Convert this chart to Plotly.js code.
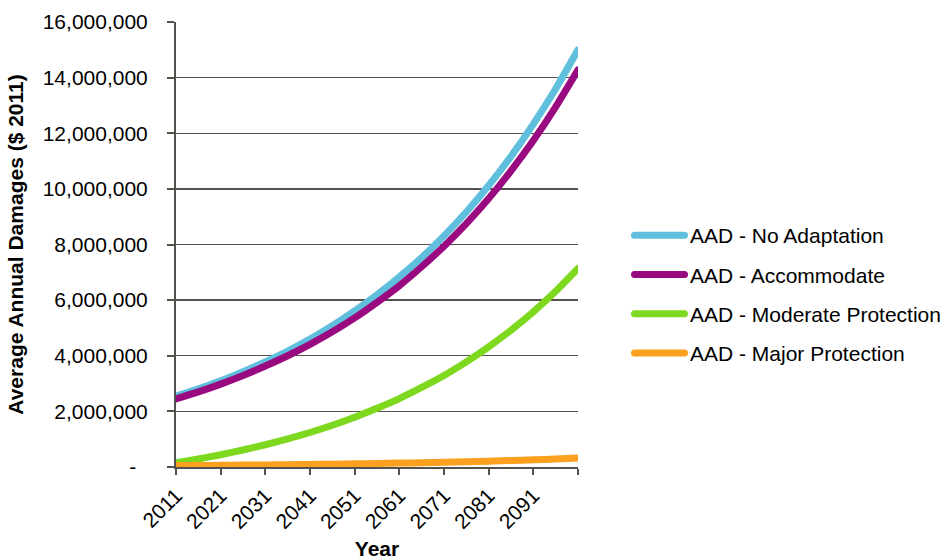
<!DOCTYPE html>
<html>
<head>
<meta charset="utf-8">
<script src="https://cdn.plot.ly/plotly-3.0.1.min.js"></script>
<style>
  html, body { margin: 0; padding: 0; background: #ffffff; }
  #chart { width: 947px; height: 560px; }
</style>
</head>
<body>
<div id="chart"></div>
<script>
// Average annual damages by adaptation option, 2011-2101 (5-year steps), $ 2011
const years = [2011, 2016, 2021, 2026, 2031, 2036, 2041, 2046, 2051, 2056,
               2061, 2066, 2071, 2076, 2081, 2086, 2091, 2096, 2101];

const noAdaptation = [2550000, 2810000, 3100000, 3430000, 3780000, 4170000, 4600000,
                      5080000, 5610000, 6190000, 6830000, 7530000, 8310000, 9170000,
                      10120000, 11170000, 12330000, 13600000, 15000000];

const accommodate = [2450000, 2700000, 2980000, 3290000, 3630000, 4000000, 4410000,
                     4860000, 5360000, 5920000, 6520000, 7200000, 7940000, 8750000,
                     9650000, 10650000, 11740000, 12950000, 14280000];

const moderateProtection = [150000, 290000, 440000, 610000, 800000, 1010000, 1240000,
                            1500000, 1790000, 2110000, 2460000, 2860000, 3290000, 3780000,
                            4320000, 4920000, 5580000, 6320000, 7140000];

const majorProtection = [50000, 55000, 61000, 68000, 75000, 84000, 93000,
                         103000, 114000, 126000, 140000, 155000, 172000, 191000,
                         211000, 234000, 260000, 288000, 320000];

const seriesNames = ['AAD - No Adaptation', 'AAD - Accommodate',
                     'AAD - Moderate Protection', 'AAD - Major Protection'];
const seriesColors = ['#5fbfdd', '#990a80', '#7ed81e', '#fba01f'];

const xTickVals = [2011, 2021, 2031, 2041, 2051, 2061, 2071, 2081, 2091, 2101];
const xTickText = ['2011', '2021', '2031', '2041', '2051', '2061', '2071', '2081', '2091', ''];

const yTickVals = [0, 2000000, 4000000, 6000000, 8000000, 10000000, 12000000, 14000000, 16000000];
const yTickText = ['-\u00a0\u00a0', '2,000,000', '4,000,000', '6,000,000', '8,000,000',
                   '10,000,000', '12,000,000', '14,000,000', '16,000,000'];

const FONT = 'Liberation Sans, Arial, sans-serif';
const AXIS_COLOR = '#55514d';

const allSeries = [noAdaptation, accommodate, moderateProtection, majorProtection];
const traces = allSeries.map((vals, i) => ({
  type: 'scatter',
  mode: 'lines',
  x: years,
  y: vals,
  name: seriesNames[i],
  legendgroup: 'g' + i,
  line: { color: seriesColors[i], width: 7, shape: 'spline', smoothing: 0.6 },
  hoverinfo: 'x+y+name'
}));

const layout = {
  width: 947,
  height: 560,
  margin: { l: 176, r: 369, t: 22, b: 93, pad: 0 },
  paper_bgcolor: '#ffffff',
  plot_bgcolor: '#ffffff',
  font: { family: FONT, size: 21, color: '#000000' },
  showlegend: true,
  legend: {
    xref: 'container',
    yref: 'container',
    x: 620 / 947,
    xanchor: 'left',
    y: (560 - 294.5) / 560,
    yanchor: 'middle',
    itemwidth: 60,
    tracegroupgap: 9,
    traceorder: 'grouped',
    font: { family: FONT, size: 21, color: '#000000' },
    bgcolor: 'rgba(0,0,0,0)'
  },
  xaxis: {
    range: [2011, 2101],
    tickmode: 'array',
    tickvals: xTickVals,
    ticktext: xTickText,
    tickangle: -45,
    ticks: 'outside',
    ticklen: 6,
    tickwidth: 2,
    tickcolor: AXIS_COLOR,
    showline: true,
    linecolor: AXIS_COLOR,
    linewidth: 2,
    showgrid: false,
    zeroline: false,
    tickfont: { family: FONT, size: 21, color: '#000000' },
    title: { text: '<b>Year</b>', font: { family: FONT, size: 21, color: '#000000' }, standoff: 15 },
    automargin: false,
    fixedrange: true
  },
  yaxis: {
    range: [0, 16000000],
    tickmode: 'array',
    tickvals: yTickVals,
    ticktext: yTickText,
    ticks: 'outside',
    ticklen: 7,
    tickwidth: 2,
    tickcolor: AXIS_COLOR,
    ticklabelstandoff: 15,
    showline: true,
    linecolor: AXIS_COLOR,
    linewidth: 2,
    showgrid: true,
    gridcolor: AXIS_COLOR,
    gridwidth: 1.4,
    zeroline: false,
    tickfont: { family: FONT, size: 21, color: '#000000' },
    title: { text: '<b>Average Annual Damages ($ 2011)</b>', font: { family: FONT, size: 21, color: '#000000' }, standoff: 13 },
    automargin: false,
    fixedrange: true
  }
};

Plotly.newPlot('chart', traces, layout, { displayModeBar: false, staticPlot: true }).then(gd => {
  // Rounded line ends, as in the original styling
  gd.querySelectorAll('.scatterlayer .js-line').forEach(p => {
    p.style.strokeLinecap = 'round';
    p.style.strokeLinejoin = 'round';
  });
  // Longer legend line samples, ending just before the entry text
  gd.querySelectorAll('.legend .legendlines path').forEach(p => {
    p.setAttribute('d', 'M14.5,0h50');
    p.style.strokeLinecap = 'round';
  });
});
</script>
</body>
</html>
